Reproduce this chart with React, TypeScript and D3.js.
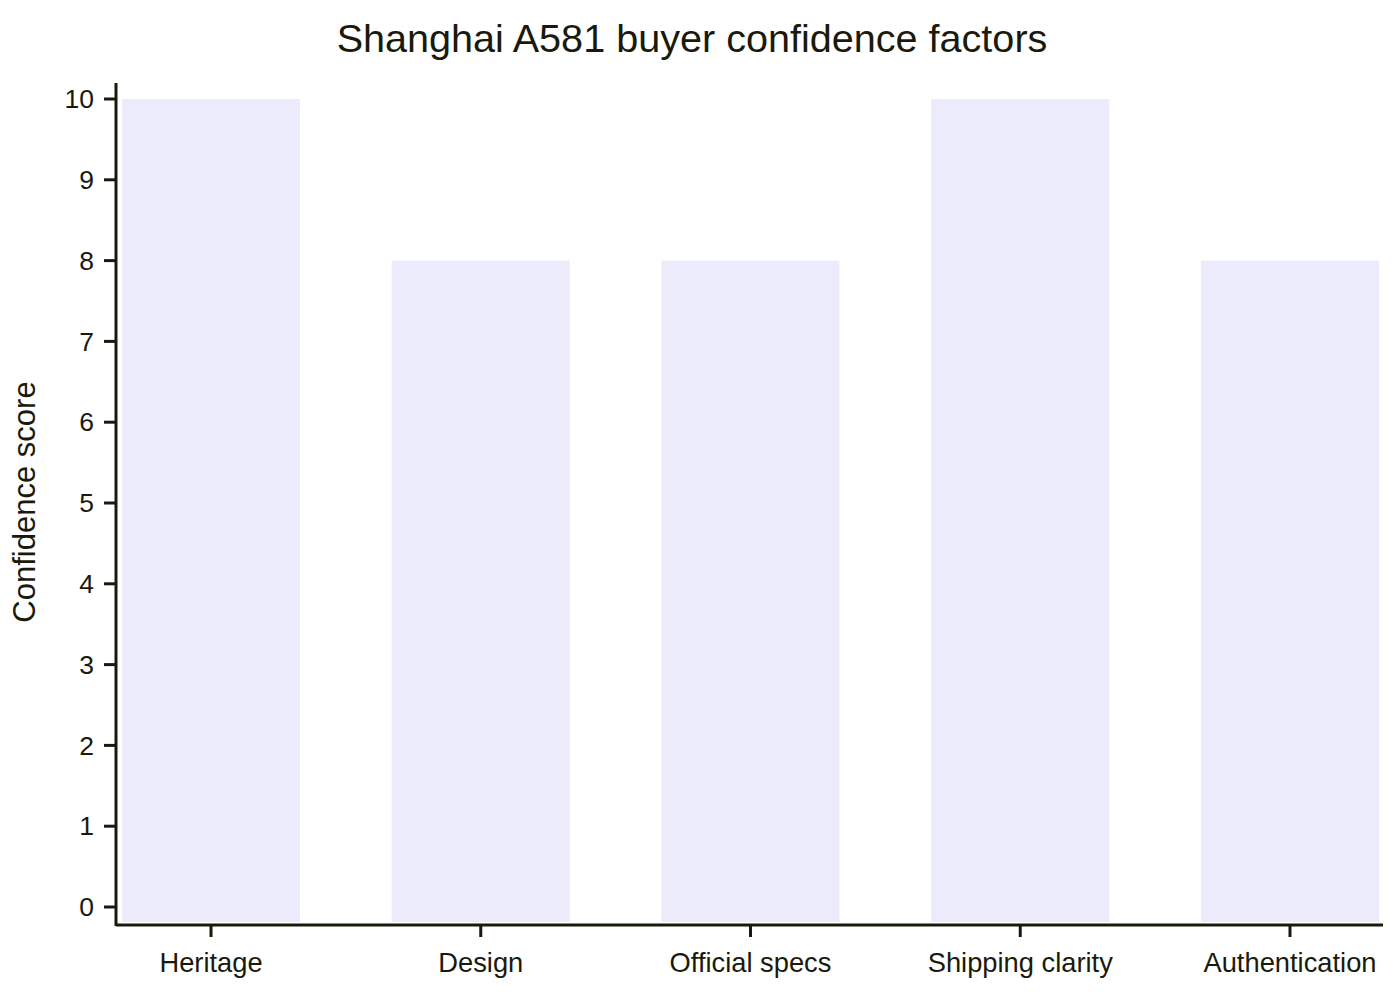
import React from "react";
import * as d3 from "d3";

const categories = ["Heritage", "Design", "Official specs", "Shipping clarity", "Authentication"];
const scores = [10, 8, 8, 10, 8];
const yTicks = [0, 1, 2, 3, 4, 5, 6, 7, 8, 9, 10];

const W = 1400;
const H = 1000;
const ink = "#1a1a0c";
const barFill = "#ebebfc";
const font = "'Liberation Sans', Arial, sans-serif";

const App = () => {
  const x = d3.scaleBand<string>().domain(categories).range([122, 1379]).paddingInner(0.34).paddingOuter(0);
  const y = d3.scaleLinear().domain([0, 10]).range([907, 99]);
  const plotBottom = 922;
  const axisY = 925;
  const axisX = 116;

  return (
    <svg width={W} height={H} style={{ display: "block", position: "absolute", left: 0, top: 0 }} fontFamily={font}>
      <rect width={W} height={H} fill="#fff" />
      <text x={692} y={52} textAnchor="middle" fontSize={39.6} fill={ink}>
        Shanghai A581 buyer confidence factors
      </text>

      {categories.map((c, i) => (
        <rect
          key={c}
          x={x(c)}
          y={y(scores[i])}
          width={x.bandwidth()}
          height={plotBottom - y(scores[i])}
          fill={barFill}
        />
      ))}

      {/* y axis */}
      <line x1={axisX} x2={axisX} y1={83} y2={axisY + 1} stroke={ink} strokeWidth={3} />
      {yTicks.map((t) => (
        <g key={t} transform={`translate(0,${y(t)})`}>
          <line x1={104} x2={axisX} stroke={ink} strokeWidth={3} />
          <text x={94} dy="0.35em" textAnchor="end" fontSize={26.5} fill={ink}>
            {t}
          </text>
        </g>
      ))}
      <text
        transform={`translate(35,502) rotate(-90)`}
        textAnchor="middle"
        fontSize={31}
        fill={ink}
      >
        Confidence score
      </text>

      {/* x axis */}
      <line x1={axisX} x2={1383} y1={axisY} y2={axisY} stroke={ink} strokeWidth={3} />
      {categories.map((c) => {
        const cx = (x(c) ?? 0) + x.bandwidth() / 2;
        return (
          <g key={c} transform={`translate(${cx},0)`}>
            <line y1={axisY} y2={937} stroke={ink} strokeWidth={3} />
            <text y={972} textAnchor="middle" fontSize={27.3} fill={ink}>
              {c}
            </text>
          </g>
        );
      })}
    </svg>
  );
};

export default App;
